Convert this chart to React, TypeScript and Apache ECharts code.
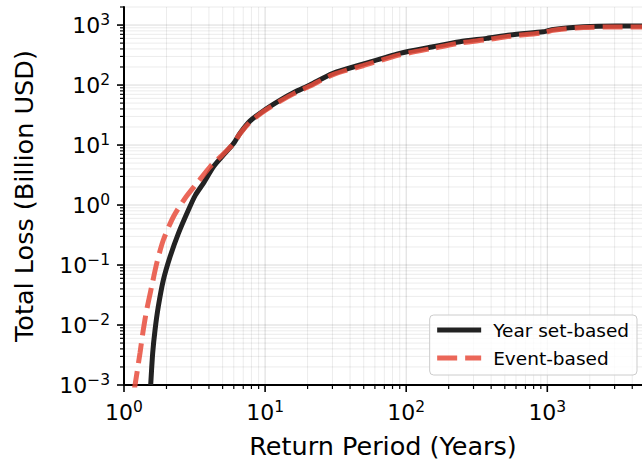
import React, { useEffect, useRef } from 'react';
import * as echarts from 'echarts';

// ---- data ----
const seriesNames = ['Year set-based', 'Event-based'];

const rpYear = [1.546, 1.597, 1.66, 1.75, 1.9, 2.12, 2.43, 2.86, 3.2, 3.65, 4.3, 5.0, 5.95, 6.64, 7.8, 9.7, 12.8, 16, 20.8, 30, 50, 90, 155, 240, 372, 544, 937, 1000, 1104, 1800, 3100, 4690];
const lossYear = [0.001, 0.0034, 0.0083, 0.0202, 0.056, 0.137, 0.337, 0.826, 1.45, 2.3, 4.35, 6.6, 10.5, 15.7, 25, 37, 56, 75, 100, 155, 225, 338, 435, 527, 600, 681, 773, 800, 847, 937, 962, 962];

const rpEvent = [1.18, 1.298, 1.37, 1.448, 1.57, 1.706, 1.9, 2.24, 2.71, 3.36, 4.1, 5.0, 5.95, 6.64, 7.8, 9.7, 12.8, 16, 20.8, 30, 50, 90, 155, 240, 372, 544, 937, 1104, 1800, 3100, 4690];
const lossEvent = [0.0008, 0.0034, 0.0083, 0.0178, 0.0436, 0.107, 0.261, 0.638, 1.3, 2.45, 4.4, 6.9, 10.5, 15.5, 24, 36, 54, 72, 96, 148, 212, 318, 410, 500, 570, 650, 745, 820, 910, 930, 930];

const xMajorTicks = [1, 10, 100, 1000];
const yMajorTicks = [0.001, 0.01, 0.1, 1, 10, 100, 1000];

const X_MIN = 1;
const X_MAX = 4690;
const Y_MIN = 0.001;
const Y_MAX = 2000;

const FONT = 'DejaVu Sans';

function minorTicks(lo: number, hi: number): number[] {
  const out: number[] = [];
  for (let e = Math.floor(Math.log10(lo)); e <= Math.ceil(Math.log10(hi)); e++) {
    for (let k = 2; k <= 9; k++) {
      const v = k * Math.pow(10, e);
      if (v > lo && v <= hi * 1.0001) out.push(v);
    }
  }
  return out;
}

const xMinorTicks = minorTicks(X_MIN, X_MAX);
const yMinorTicks = minorTicks(Y_MIN, Y_MAX);

function powLabel(v: number): string {
  const e = Math.log10(v);
  const r = Math.round(e);
  if (Math.abs(e - r) > 1e-6) return '';
  const s = r < 0 ? '\u2212' + String(-r) : String(r);
  return `{b|10}{s|${s}}`;
}

const labelRich = {
  b: { fontSize: 22, fontFamily: FONT, color: '#000' },
  s: { fontSize: 15.5, fontFamily: FONT, color: '#000', padding: [0, 0, 10, 0] },
};

const MAJOR_GRID = 'rgba(0,0,0,0.15)';
const MINOR_GRID = 'rgba(0,0,0,0.08)';

function vLines(vals: number[], color: string, tickLen: number, tickW: number) {
  return {
    type: 'custom',
    coordinateSystem: 'cartesian2d',
    silent: true,
    z: 1,
    clip: false,
    data: vals.map((v) => [v, Y_MIN]),
    encode: { x: 0, y: 1 },
    renderItem: (_p: any, api: any) => {
      const v = api.value(0);
      const b = api.coord([v, Y_MIN]);
      const t = api.coord([v, Y_MAX]);
      const children: any[] = [];
      if (Math.abs(v - X_MIN) > 1e-9) {
        children.push({ type: 'line', shape: { x1: b[0], y1: b[1], x2: t[0], y2: t[1] }, style: { stroke: color, lineWidth: 1 } });
      }
      children.push({ type: 'line', shape: { x1: b[0], y1: b[1], x2: b[0], y2: b[1] + tickLen }, style: { stroke: '#000', lineWidth: tickW } });
      return { type: 'group', children };
    },
  };
}

function hLines(vals: number[], color: string, tickLen: number, tickW: number) {
  return {
    type: 'custom',
    coordinateSystem: 'cartesian2d',
    silent: true,
    z: 1,
    clip: false,
    data: vals.map((v) => [X_MIN, v]),
    encode: { x: 0, y: 1 },
    renderItem: (_p: any, api: any) => {
      const v = api.value(1);
      const l = api.coord([X_MIN, v]);
      const r = api.coord([X_MAX, v]);
      const children: any[] = [];
      if (Math.abs(v - Y_MIN) > 1e-12) {
        children.push({ type: 'line', shape: { x1: l[0], y1: l[1], x2: r[0], y2: r[1] }, style: { stroke: color, lineWidth: 1 } });
      }
      children.push({ type: 'line', shape: { x1: l[0] - tickLen, y1: l[1], x2: l[0], y2: l[1] }, style: { stroke: '#000', lineWidth: tickW } });
      return { type: 'group', children };
    },
  };
}

export default function App() {
  const ref = useRef<HTMLDivElement>(null);

  useEffect(() => {
    if (!ref.current) return;
    const chart = echarts.init(ref.current, undefined, { renderer: 'svg' });
    const option: any = {
      animation: false,
      backgroundColor: '#fff',
      textStyle: { fontFamily: FONT },
      grid: { left: 124, right: 0, top: 7, bottom: 80, containLabel: false, outerBoundsMode: 'none' },
      legend: {
        data: seriesNames,
        orient: 'vertical',
        right: 5,
        bottom: 90,
        itemWidth: 44,
        itemHeight: 14,
        itemGap: 8,
        padding: [5, 8, 7, 5],
        backgroundColor: 'rgba(255,255,255,0.8)',
        borderColor: '#cccccc',
        borderWidth: 1,
        borderRadius: 4,
        itemStyle: { color: 'rgba(0,0,0,0)', borderColor: 'rgba(0,0,0,0)', borderWidth: 0, opacity: 0 },
        lineStyle: { width: 5 },
        textStyle: { fontSize: 18.5, fontFamily: FONT, color: '#000', lineHeight: 20, padding: [0, 0, 0, 7] },
      },
      xAxis: {
        type: 'log',
        logBase: 10,
        min: X_MIN,
        max: X_MAX,
        name: 'Return Period (Years)',
        nameLocation: 'middle',
        nameGap: 48,
        nameTextStyle: { fontSize: 25.5, fontFamily: FONT, color: '#000' },
        axisLine: { show: true, lineStyle: { color: '#000', width: 2 } },
        axisTick: { show: false },
        splitLine: { show: false },
        minorTick: { show: false },
        axisLabel: { formatter: powLabel, rich: labelRich, margin: 14, color: '#000', showMinLabel: true, showMaxLabel: false },
      },
      yAxis: {
        type: 'log',
        logBase: 10,
        min: Y_MIN,
        max: Y_MAX,
        name: 'Total Loss (Billion USD)',
        nameLocation: 'middle',
        nameGap: 87,
        nameTextStyle: { fontSize: 25.5, fontFamily: FONT, color: '#000' },
        axisLine: { show: true, lineStyle: { color: '#000', width: 2 } },
        axisTick: { show: false },
        splitLine: { show: false },
        minorTick: { show: false },
        axisLabel: { formatter: powLabel, rich: labelRich, margin: 14, color: '#000', showMinLabel: true, showMaxLabel: false },
      },
      series: [
        vLines(xMinorTicks, MINOR_GRID, 4, 1.2),
        vLines(xMajorTicks, MAJOR_GRID, 7, 1.6),
        hLines(yMinorTicks, MINOR_GRID, 4, 1.2),
        hLines(yMajorTicks, MAJOR_GRID, 7, 1.6),
        {
          name: seriesNames[0],
          type: 'line',
          z: 3,
          data: rpYear.map((x, i) => [x, lossYear[i]]),
          showSymbol: false,
          symbol: 'none',
          smooth: 0.25,
          clip: true,
          lineStyle: { color: '#222222', width: 5 },
          itemStyle: { color: '#222222' },
        },
        {
          name: seriesNames[1],
          type: 'line',
          z: 4,
          data: rpEvent.map((x, i) => [x, lossEvent[i]]),
          showSymbol: false,
          symbol: 'none',
          smooth: 0.25,
          clip: true,
          lineStyle: { color: 'rgba(231,76,60,0.85)', width: 5, type: [20, 8] },
          itemStyle: { color: 'rgba(231,76,60,0.85)' },
        },
      ],
    };
    chart.setOption(option);
    return () => chart.dispose();
  }, []);

  return <div ref={ref} style={{ position: 'fixed', left: 0, top: 0, width: 642, height: 465 }} />;
}
